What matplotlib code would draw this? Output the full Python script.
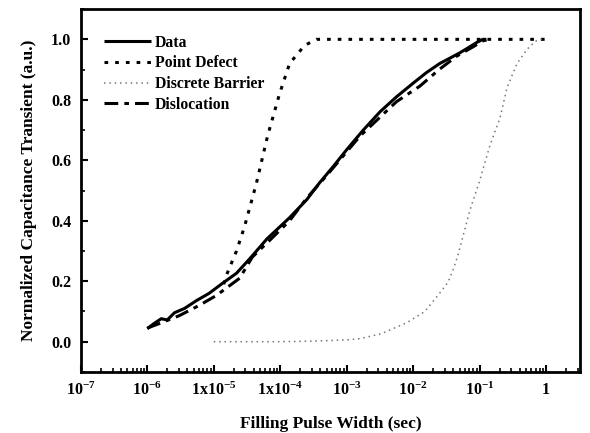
import numpy as np
import matplotlib
matplotlib.use("Agg")
import matplotlib.pyplot as plt

plt.rcParams['font.family'] = ['Liberation Serif', 'DejaVu Serif']
plt.rcParams['font.weight'] = 'bold'
plt.rcParams['mathtext.fontset'] = 'custom'
plt.rcParams['mathtext.rm'] = 'Liberation Serif:bold'
plt.rcParams['mathtext.bf'] = 'Liberation Serif:bold'
plt.rcParams['mathtext.it'] = 'Liberation Serif:bold:italic'

# log10(time) and normalized transient values
data_logx = [-6.0, -5.9, -5.79, -5.70, -5.59, -5.44, -5.26, -5.07, -4.87, -4.66, -4.46,
             -4.2, -3.86, -3.6, -3.41, -3.2, -3.0, -2.75, -2.5, -2.25, -2.0, -1.8, -1.6,
             -1.3, -1.15, -1.04, -0.95, -0.9]
data_y = [0.043, 0.06, 0.076, 0.072, 0.096, 0.11, 0.136, 0.16, 0.193, 0.226, 0.274,
          0.34, 0.41, 0.47, 0.525, 0.58, 0.635, 0.70, 0.76, 0.81, 0.855, 0.89, 0.92,
          0.955, 0.975, 0.99, 1.0, 1.0]

point_logx = [-4.85, -4.809, -4.658, -4.538, -4.357, -4.191, -4.010, -3.859, -3.633, -3.452, -3.3, 0.0]
point_y = [0.19, 0.22, 0.30, 0.38, 0.525, 0.68, 0.82, 0.92, 0.98, 1.0, 1.0, 1.0]

barrier_logx = [-5.0, -4.0, -3.5, -3.0, -2.8, -2.472, -2.095, -1.824, -1.628, -1.477, -1.402, -1.326,
                -1.146, -0.995, -0.844, -0.693, -0.588, -0.437, -0.286, -0.166, -0.09, -0.05]
barrier_y = [0.0, 0.0, 0.002, 0.006, 0.01, 0.027, 0.063, 0.10, 0.153, 0.196, 0.236, 0.286,
             0.435, 0.535, 0.65, 0.74, 0.84, 0.92, 0.967, 0.993, 1.0, 1.0]

disloc_logx = [-6.0, -5.82, -5.52, -5.22, -4.96, -4.61, -4.42, -4.16, -3.86, -3.60, -3.30,
               -2.80, -2.25, -1.90, -1.61, -1.34, -1.1, -0.95, -0.85]
disloc_y = [0.045, 0.06, 0.086, 0.12, 0.153, 0.21, 0.28, 0.335, 0.40, 0.475, 0.55,
            0.68, 0.794, 0.845, 0.90, 0.945, 0.975, 0.995, 1.0]

xtick_vals = [1e-7, 1e-6, 1e-5, 1e-4, 1e-3, 1e-2, 1e-1, 1]
xtick_labels = [r'$\mathbf{10^{-7}}$', r'$\mathbf{10^{-6}}$', r'$\mathbf{1x10^{-5}}$',
                r'$\mathbf{1x10^{-4}}$', r'$\mathbf{10^{-3}}$', r'$\mathbf{10^{-2}}$',
                r'$\mathbf{10^{-1}}$', r'$\mathbf{1}$']
ytick_vals = [0.0, 0.2, 0.4, 0.6, 0.8, 1.0]

fig = plt.figure(figsize=(5.9, 4.33), dpi=100)
ax = fig.add_axes([0.137, 0.141, 0.846, 0.838])

ax.plot(10 ** np.array(data_logx), data_y, color='black', lw=2.2, solid_capstyle='butt', label='Data')
ax.plot(10 ** np.array(point_logx), point_y, color='black', lw=2.2, linestyle=(0, (1.2, 2.3)), label='Point Defect')
ax.plot(10 ** np.array(barrier_logx), barrier_y, color='#777777', lw=1.1, linestyle=(0, (1.0, 2.5)), label='Discrete Barrier')
ax.plot(10 ** np.array(disloc_logx), disloc_y, color='black', lw=2.2, linestyle=(0, (4.5, 2.0, 1.5, 2.0)), label='Dislocation')

ax.set_xscale('log')
ax.set_xlim(1e-7, 10 ** 0.51)
ax.set_ylim(-0.1, 1.1)
ax.set_xticks(xtick_vals)
ax.set_xticklabels(xtick_labels, fontsize=11.5)
ax.set_yticks(ytick_vals)
ax.set_yticklabels([f'{v:.1f}' for v in ytick_vals], fontsize=11.5, fontweight='bold')
ax.set_yticks(np.arange(-0.1, 1.11, 0.1), minor=True)
ax.xaxis.set_minor_locator(matplotlib.ticker.LogLocator(base=10, subs=np.arange(2, 10), numticks=20))
ax.xaxis.set_minor_formatter(matplotlib.ticker.NullFormatter())
ax.tick_params(which='major', direction='in', length=5, width=1.5, top=False, right=False, pad=7)
ax.tick_params(which='minor', direction='in', length=3, width=1.2, top=False, right=False)
for s in ax.spines.values():
    s.set_linewidth(2.0)

ax.set_xlabel('Filling Pulse Width (sec)', fontsize=12.5, fontweight='bold', labelpad=12)
ax.set_ylabel('Normalized Capacitance Transient (a.u.)', fontsize=12.5, fontweight='bold', labelpad=10)

leg = ax.legend(loc='upper left', frameon=False, fontsize=11.3, handlelength=3.0,
                handletextpad=0.2, labelspacing=0.3, borderaxespad=0.3, bbox_to_anchor=(0.025, 0.96))
for t in leg.get_texts():
    t.set_fontweight('bold')

fig.savefig('out.png', dpi=100)
